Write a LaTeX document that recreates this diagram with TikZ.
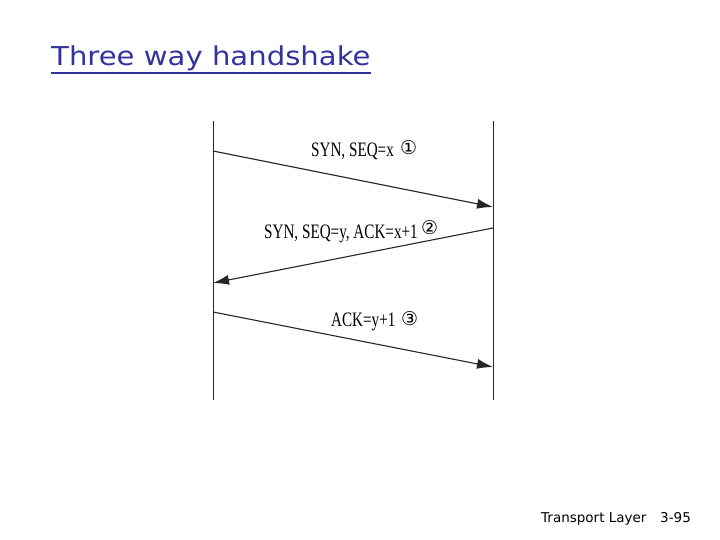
\documentclass[tikz,border=0pt]{standalone}
\usepackage{fontspec}
\setmainfont{DejaVu Sans}
\newfontfamily\lblfont{Liberation Serif}
\newfontfamily\symfont{DejaVu Sans}
\usetikzlibrary{arrows.meta}
\definecolor{titleblue}{RGB}{51,51,160}
\tikzset{
  lifeline/.style={line width=0.9pt, black!85},
  msg/.style={line width=1.1pt, black!85, -{Latex[length=16pt,width=10pt]}},
  lbl/.style={font=\lblfont\fontsize{20.5}{20.5}\selectfont, inner sep=0pt, xscale=0.74},
  circ/.style={font=\symfont\fontsize{19}{19}\selectfont, inner sep=0pt},
}
\begin{document}
\begin{tikzpicture}[x=1pt,y=-1pt]
\useasboundingbox (0,0) rectangle (720,540);
% title
\node[anchor=base west, inner sep=0pt, text=titleblue, font=\fontsize{26}{26}\selectfont, xscale=1.12] (title) at (51,66) {Three way handshake};
\draw[titleblue, line width=1.8pt] ([yshift=-7pt]title.base west) -- ([yshift=-7pt]title.base east);
% lifelines
\coordinate (lt) at (213,121); \coordinate (lb) at (213,400);
\coordinate (rt) at (493,121); \coordinate (rb) at (493,400);
\draw[lifeline] (lt) -- (lb);
\draw[lifeline] (rt) -- (rb);
% message endpoints
\coordinate (m1s) at (213,151); \coordinate (m1e) at (493,207);
\coordinate (m2s) at (493,228); \coordinate (m2e) at (213,283);
\coordinate (m3s) at (213,312); \coordinate (m3e) at (493,367);
\draw[msg] (m1s) -- (m1e);
\draw[msg] (m2s) -- (m2e);
\draw[msg] (m3s) -- (m3e);
% labels
\node[lbl, anchor=base west] (l1) at (311,157) {SYN, SEQ=x};
\node[circ, anchor=base west] (c1) at (400,155) {①};
\node[lbl, anchor=base west] (l2) at (264,239) {SYN, SEQ=y, ACK=x+1};
\node[circ, anchor=base west] (c2) at (421,234) {②};
\node[lbl, anchor=base west] (l3) at (331,326) {ACK=y+1};
\node[circ, anchor=base west] (c3) at (401,325) {③};
% footer
\node[anchor=base west, inner sep=0pt, font=\fontsize{13.5}{13.5}\selectfont] (foot) at (541,522) {Transport Layer};
\node[anchor=base west, inner sep=0pt, font=\fontsize{13.5}{13.5}\selectfont] (page) at (660,522) {3-95};
\end{tikzpicture}
\end{document}
